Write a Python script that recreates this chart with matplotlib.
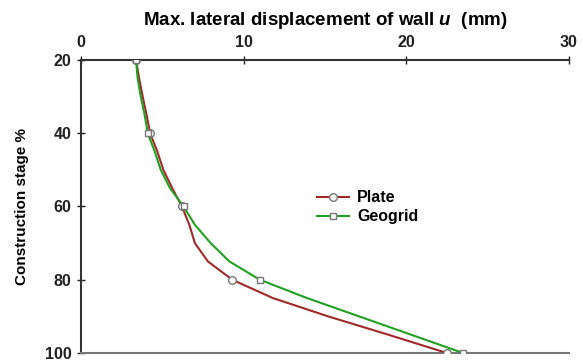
import numpy as np
import matplotlib
matplotlib.use('Agg')
import matplotlib.pyplot as plt

plt.rcParams['font.family'] = ['Liberation Sans', 'DejaVu Sans']
plt.rcParams['font.weight'] = 'bold'
plt.rcParams['mathtext.fontset'] = 'custom'
plt.rcParams['mathtext.bfit'] = 'Liberation Sans:italic:bold'
plt.rcParams['mathtext.bf'] = 'Liberation Sans:bold'

# Construction stage (%) and max lateral wall displacement (mm)
stage = [20, 25, 30, 35, 40, 45, 50, 55, 60, 65, 70, 75, 80, 85, 90, 95, 100]
plate = [3.38, 3.57, 3.79, 4.03, 4.25, 4.69, 5.06, 5.61, 6.2, 6.66, 7.0, 7.8,
         9.3, 11.8, 15.2, 18.9, 22.5]
geogrid = [3.38, 3.48, 3.67, 3.91, 4.1, 4.53, 4.9, 5.47, 6.3, 7.0, 7.97, 9.12,
           11.0, 13.9, 17.1, 20.3, 23.5]
marked = [0, 4, 8, 12, 16]

fig = plt.figure(figsize=(5.83, 3.61), dpi=100)
ax = fig.add_axes([0.139, 0.022, 0.837, 0.812])

ax.plot(plate, stage, color='#a02a2a', lw=1.5, marker='o', markevery=marked,
        ms=5.5, mfc='white', mec='#777777', mew=1, label='Plate', zorder=3)
ax.plot(geogrid, stage, color='#22a022', lw=1.5, marker='s', markevery=marked,
        ms=5, mfc='white', mec='#777777', mew=1, label='Geogrid', zorder=3)

ax.set_xlim(0, 30)
ax.set_ylim(100, 20)
ax.set_xticks([0, 10, 20, 30])
ax.set_yticks([20, 40, 60, 80, 100])
ax.xaxis.tick_top()
ax.xaxis.set_label_position('top')
ax.tick_params(direction='inout', length=6, width=1, colors='#222222')
ax.tick_params(axis='x', labelsize=11.5, pad=4)
ax.tick_params(axis='y', labelsize=11.5, pad=4)

for side in ['top', 'left']:
    ax.spines[side].set_color('#333333')
    ax.spines[side].set_linewidth(1.5)
ax.spines['right'].set_visible(False)
ax.spines['bottom'].set_color('#777777')
ax.spines['bottom'].set_linewidth(1.5)

ax.set_xlabel('Max. lateral displacement of wall $\\mathbfit{u}$  (mm)', fontsize=13.5,
              fontweight='bold', labelpad=7)
ax.set_ylabel('Construction stage %', fontsize=11, fontweight='bold', labelpad=11)

leg = ax.legend(loc='upper left', bbox_to_anchor=(0.455, 0.604), frameon=False,
                fontsize=11.5, handlelength=2.0, handletextpad=0.5, labelspacing=0.25)

fig.savefig('out.png', dpi=100)
